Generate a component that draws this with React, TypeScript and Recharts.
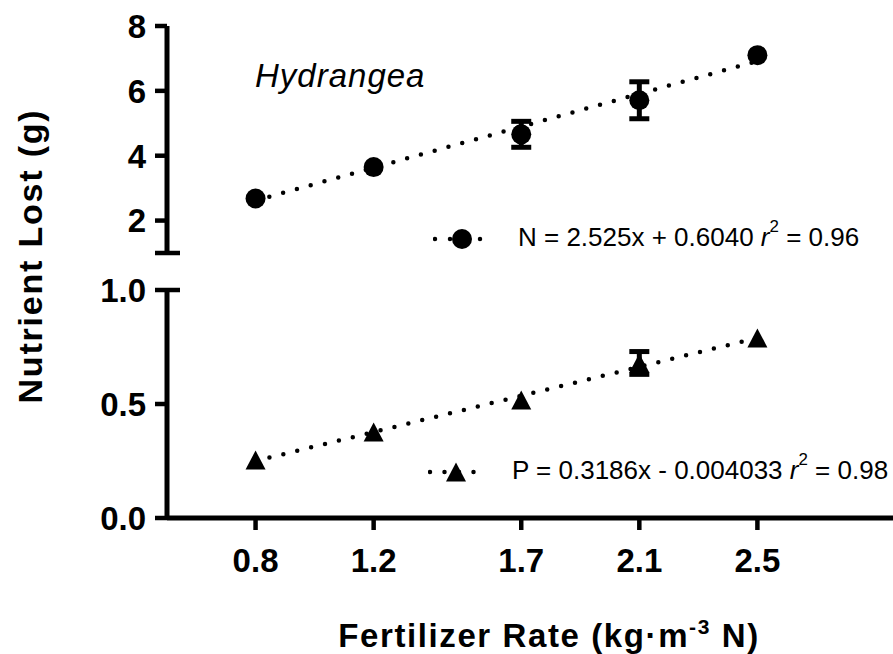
import React from 'react';
import { ScatterChart, Scatter, XAxis, YAxis, ErrorBar, Legend } from 'recharts';

const FONT = '"Liberation Sans", Arial, Helvetica, sans-serif';

// fertilizer rate (kg·m-3 N)
const rates = [0.8, 1.2, 1.7, 2.1, 2.5];
const rateTicks = [0.8, 1.2, 1.7, 2.1, 2.5];
const rateTickLabels = ['0.8', '1.2', '1.7', '2.1', '2.5'];

// N lost (g): mean and error (0 = bar hidden behind the marker)
const nLost = [2.68, 3.65, 4.66, 5.71, 7.1];
const nErr = [0, 0, 0.4, 0.57, 0];

// P lost (g): mean and error
const pLost = [0.254, 0.377, 0.517, 0.68, 0.79];
const pErr = [0, 0, 0, 0.05, 0];

// ends of the dotted regression lines
const trendX = [0.8, 2.5];
const nTrend = [2.62, 6.92];
const pTrend = [0.25, 0.79];

const nTicks = [1, 2, 4, 6, 8];
const nTickLabels = ['', '2', '4', '6', '8'];
const pTicks = [0, 0.5, 1];
const pTickLabels = ['0.0', '0.5', '1.0'];

const nData = rates.map((x, i) => ({ x, y: nLost[i], err: nErr[i] }));
const pData = rates.map((x, i) => ({ x, y: pLost[i], err: pErr[i] }));
const nTrendData = trendX.map((x, i) => ({ x, y: nTrend[i] }));
const pTrendData = trendX.map((x, i) => ({ x, y: pTrend[i] }));

const AXIS_W = 5;
const AXIS = { stroke: '#000', strokeWidth: AXIS_W };
const DOTTED = { stroke: '#000', strokeWidth: 4.5, strokeDasharray: '0 14.3', strokeLinecap: 'round' as const };

const Dot = (p: any) => <circle cx={p.cx} cy={p.cy} r={10} fill="#000" />;
const Tri = (p: any) => (
  <polygon
    points={`${p.cx},${p.cy - 9.5} ${p.cx + 10},${p.cy + 9.5} ${p.cx - 10},${p.cy + 9.5}`}
    fill="#000"
  />
);
const NoShape = () => <g />;

// y tick: tickSize 12 + tickMargin 8 -> axis line sits at x + 20
function YTick({ x, y, payload, ticks, labels, cap }: any) {
  const ax = x + 20;
  const i = ticks.indexOf(payload.value);
  const isCap = payload.value === cap;
  return (
    <g>
      <line x1={ax - 12} x2={isCap ? ax + 13 : ax} y1={y} y2={y} stroke="#000" strokeWidth={4.5} />
      {labels[i] ? (
        <text x={ax - 21} y={y} dy="0.36em" textAnchor="end" fontSize={33} fontWeight="bold" fontFamily={FONT} fill="#000">
          {labels[i]}
        </text>
      ) : null}
    </g>
  );
}

function XTick({ x, y, payload }: any) {
  const ay = y - 12;
  const i = rateTicks.indexOf(payload.value);
  return (
    <g>
      <line x1={x} x2={x} y1={ay} y2={ay + 12} stroke="#000" strokeWidth={4.5} />
      <text x={x} y={ay + 54} textAnchor="middle" fontSize={33} fontWeight="bold" fontFamily={FONT} fill="#000">
        {rateTickLabels[i]}
      </text>
    </g>
  );
}

const yTitle = () => (
  <text
    x={42}
    y={256}
    transform="rotate(-90 42 256)"
    textAnchor="middle"
    fontSize={34}
    fontWeight="bold"
    letterSpacing={1.8}
    fontFamily={FONT}
    fill="#000"
  >
    Nutrient Lost (g)
  </text>
);

const xTitle = () => (
  <text x={549} y={647} textAnchor="middle" fontSize={33} fontWeight="bold" letterSpacing={1.6} fontFamily={FONT} fill="#000">
    Fertilizer Rate (kg·m
    <tspan dy={-13} fontSize={21}>-3</tspan>
    <tspan dy={13}> N)</tspan>
  </text>
);

const speciesLabel = () => (
  <text x={255} y={87} fontSize={33} fontStyle="italic" letterSpacing={1} fontFamily={FONT} fill="#000">
    Hydrangea
  </text>
);

const legendRow: React.CSSProperties = {
  display: 'flex',
  alignItems: 'center',
  whiteSpace: 'nowrap',
  fontFamily: FONT,
  fontSize: 26,
  lineHeight: '30px',
  color: '#000',
};
const supStyle: React.CSSProperties = { fontSize: '0.65em', verticalAlign: 'baseline', position: 'relative', top: '-0.85em' };

function NLegend() {
  return (
    <div style={legendRow}>
      <svg width={85} height={30}>
        <line x1={2} x2={48} y1={15} y2={15} stroke="#000" strokeWidth={4.5} strokeDasharray="0 15" strokeLinecap="round" />
        <circle cx={29} cy={15} r={10} fill="#000" />
      </svg>
      <span>
        N = 2.525x + 0.6040 <i>r</i>
        <sup style={supStyle}>2</sup> = 0.96
      </span>
    </div>
  );
}

function PLegend() {
  return (
    <div style={legendRow}>
      <svg width={84} height={30}>
        <line x1={2} x2={47} y1={15} y2={15} stroke="#000" strokeWidth={4.5} strokeDasharray="0 14.5" strokeLinecap="round" />
        <polygon points="28,5.5 38,24.5 18,24.5" fill="#000" />
      </svg>
      <span>
        P = 0.3186x - 0.004033 <i>r</i>
        <sup style={supStyle}>2</sup> = 0.98
      </span>
    </div>
  );
}

export default function App() {
  return (
    <div style={{ position: 'absolute', left: 0, top: 0, width: 893, height: 654, overflow: 'hidden', background: '#fff' }}>
      {/* lower panel: P */}
      <div style={{ position: 'absolute', left: 0, top: 0 }}>
        <ScatterChart width={960} height={654} margin={{ top: 290, right: 55, bottom: 96, left: 87 }}>
          <XAxis
            type="number"
            dataKey="x"
            domain={[0.5, 3]}
            ticks={rateTicks}
            interval={0}
            allowDataOverflow
            height={40}
            tickSize={12}
            tickMargin={0}
            tickLine={false}
            stroke="#000"
            strokeWidth={AXIS_W}
            axisLine={AXIS}
            tick={(p: any) => <XTick {...p} />}
            label={xTitle}
          />
          <YAxis
            type="number"
            dataKey="y"
            domain={[0, 1]}
            ticks={pTicks}
            interval={0}
            allowDataOverflow
            width={80}
            tickSize={12}
            tickMargin={8}
            tickLine={false}
            stroke="#000"
            strokeWidth={AXIS_W}
            axisLine={AXIS}
            tick={(p: any) => <YTick {...p} ticks={pTicks} labels={pTickLabels} cap={1} />}
            label={speciesLabel}
          />
          <Scatter data={pTrendData} line={DOTTED} shape={NoShape} isAnimationActive={false} />
          <Scatter data={pData} shape={Tri} isAnimationActive={false}>
            <ErrorBar dataKey="err" direction="y" width={10} stroke="#000" strokeWidth={5} isAnimationActive={false} />
          </Scatter>
          <Legend
            layout="horizontal"
            verticalAlign="middle"
            align="center"
            content={() => <PLegend />}
            wrapperStyle={{ left: 428, top: 455, width: 'auto' }}
          />
        </ScatterChart>
      </div>

      {/* upper panel: N */}
      <div style={{ position: 'absolute', left: 0, top: 0 }}>
        <ScatterChart width={960} height={654} margin={{ top: 26, right: 55, bottom: 401, left: 87 }}>
          <XAxis
            type="number"
            dataKey="x"
            domain={[0.5, 3]}
            orientation="top"
            allowDataOverflow
            height={0}
            tick={false}
            tickLine={false}
            stroke="#000"
            strokeWidth={AXIS_W}
            axisLine={AXIS}
          />
          <YAxis
            type="number"
            dataKey="y"
            domain={[1, 8]}
            ticks={nTicks}
            interval={0}
            allowDataOverflow
            width={80}
            tickSize={12}
            tickMargin={8}
            tickLine={false}
            stroke="#000"
            strokeWidth={AXIS_W}
            axisLine={AXIS}
            tick={(p: any) => <YTick {...p} ticks={nTicks} labels={nTickLabels} cap={1} />}
            label={yTitle}
          />
          <Scatter data={nTrendData} line={DOTTED} shape={NoShape} isAnimationActive={false} />
          <Scatter data={nData} shape={Dot} isAnimationActive={false}>
            <ErrorBar dataKey="err" direction="y" width={10} stroke="#000" strokeWidth={5} isAnimationActive={false} />
          </Scatter>
          <Legend
            layout="horizontal"
            verticalAlign="middle"
            align="center"
            content={() => <NLegend />}
            wrapperStyle={{ left: 433, top: 222, width: 'auto' }}
          />
        </ScatterChart>
      </div>
    </div>
  );
}
